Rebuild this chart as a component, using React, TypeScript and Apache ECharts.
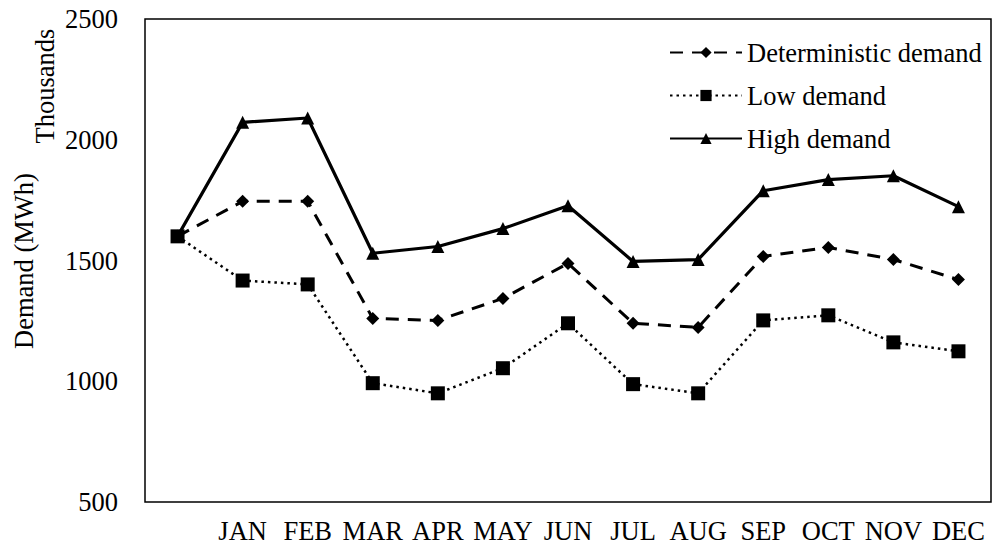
import React, { useEffect, useRef } from "react";
import * as echarts from "echarts";

const months = ["", "JAN", "FEB", "MAR", "APR", "MAY", "JUN", "JUL", "AUG", "SEP", "OCT", "NOV", "DEC"];
const deterministic = [1600, 1745, 1745, 1260, 1252, 1343, 1488, 1240, 1223, 1517, 1554, 1504, 1421];
const low = [1600, 1417, 1401, 992, 950, 1054, 1240, 988, 950, 1252, 1273, 1161, 1124];
const high = [1600, 2072, 2090, 1530, 1558, 1632, 1727, 1496, 1504, 1789, 1835, 1851, 1723];
const yTicks = { min: 500, max: 2500, interval: 500 };

const FONT = "Liberation Serif, DejaVu Serif, serif";
const SIZE = 26.5;

export default function App() {
  const ref = useRef<HTMLDivElement>(null);

  useEffect(() => {
    if (!ref.current) return;
    const chart = echarts.init(ref.current, null, { renderer: "svg" });
    chart.setOption({
      animation: false,
      backgroundColor: "#ffffff",
      textStyle: { fontFamily: FONT, color: "#000" },
      grid: {
        left: 145,
        right: 10,
        top: 19,
        bottom: 47,
        show: true,
        borderColor: "#000",
        borderWidth: 1.5,
        backgroundColor: "transparent",
      },
      legend: {
        orient: "vertical",
        left: 664,
        top: 34,
        itemWidth: 72,
        itemHeight: 14,
        itemGap: 16,
        textStyle: { fontFamily: FONT, fontSize: SIZE, color: "#000" },
        data: ["Deterministic demand", "Low demand", "High demand"],
      },
      xAxis: {
        type: "category",
        data: months,
        boundaryGap: true,
        axisLine: { show: false },
        axisTick: { show: false },
        axisLabel: { fontFamily: FONT, fontSize: SIZE, color: "#000", margin: 15, interval: 0 },
        splitLine: { show: false },
      },
      yAxis: {
        type: "value",
        min: yTicks.min,
        max: yTicks.max,
        interval: yTicks.interval,
        axisLine: { show: false },
        axisTick: { show: false },
        splitLine: { show: false },
        axisLabel: {
          fontFamily: FONT,
          fontSize: SIZE,
          color: "#000",
          margin: 27,
          formatter: (v: number) => String(v),
        },
      },
      graphic: [
        {
          type: "text",
          x: 24,
          y: 261,
          rotation: Math.PI / 2,
          style: {
            text: "Demand (MWh)",
            fontFamily: FONT,
            fontSize: SIZE,
            fill: "#000",
            align: "center",
            verticalAlign: "middle",
          },
        },
        {
          type: "text",
          x: 45,
          y: 86,
          rotation: Math.PI / 2,
          style: {
            text: "Thousands",
            fontFamily: FONT,
            fontSize: SIZE,
            fill: "#000",
            align: "center",
            verticalAlign: "middle",
          },
        },
      ],
      series: [
        {
          name: "Deterministic demand",
          type: "line",
          data: deterministic,
          symbol: "diamond",
          symbolSize: 13,
          itemStyle: { color: "#000" },
          lineStyle: { color: "#000", width: 3, type: [13, 9] },
        },
        {
          name: "Low demand",
          type: "line",
          data: low,
          symbol: "rect",
          symbolSize: 14,
          itemStyle: { color: "#000" },
          lineStyle: { color: "#000", width: 2.5, type: [2.5, 4] },
        },
        {
          name: "High demand",
          type: "line",
          data: high,
          symbol: "triangle",
          symbolSize: 13,
          itemStyle: { color: "#000" },
          lineStyle: { color: "#000", width: 3.2 },
        },
      ],
    });
    return () => chart.dispose();
  }, []);

  return <div ref={ref} style={{ width: 1001, height: 549, position: "absolute", left: 0, top: 0 }} />;
}
